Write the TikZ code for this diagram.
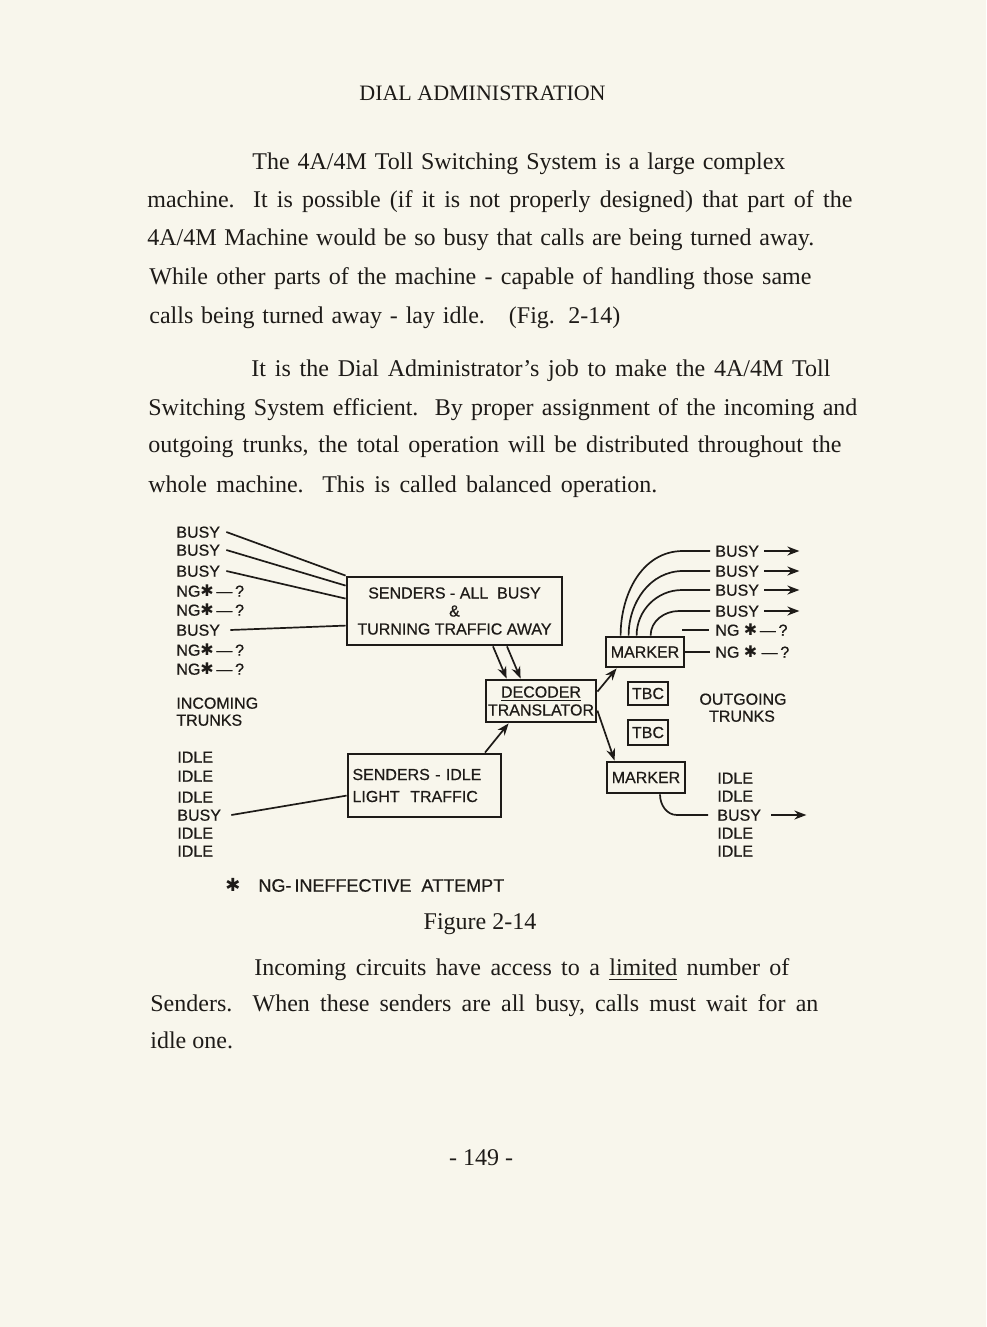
\documentclass[tikz,border=0pt]{standalone}
\usepackage{fontspec}
\setmainfont{Liberation Serif}
\newfontfamily\lettering[FakeBold=0.6]{Liberation Sans}
\newfontfamily\starfont{DejaVu Sans}
\usetikzlibrary{arrows.meta,calc,positioning}
\definecolor{paper}{RGB}{248,246,236}
\definecolor{ink}{RGB}{30,27,24}
\newcommand{\ngast}{{\starfont ✱}}

\begin{document}
\begin{tikzpicture}[
      x=0.5pt, y=-0.5pt,
      >={Stealth[length=6pt,width=4.5pt]},
      bodytext/.style={font=\fontsize{12}{14}\selectfont, text=ink, inner sep=0pt,
            anchor=west, text height=7.9pt, text depth=0pt},
      trunk/.style={font=\lettering\fontsize{8}{9}\selectfont, text=ink, inner sep=0pt,
            anchor=west, text height=5.7pt, text depth=0pt},
      unit/.style={draw=ink, line width=1.4pt, font=\lettering\fontsize{8}{9}\selectfont,
            text=ink, inner sep=1pt},
      wire/.style={draw=ink, line width=0.85pt},
      feed/.style={wire, ->}
]
\fill[paper] (0,0) rectangle (986,1327);
\useasboundingbox (0,0) rectangle (986,1327);

% page text
\node[bodytext, anchor=center, font=\fontsize{11}{13}\selectfont] (head) at (482.5,93) {DIAL ADMINISTRATION};
\node[bodytext] (pa1) at (252,162) {\makebox[266.5pt][s]{The 4A/4M Toll Switching System is a large complex}};
\node[bodytext] (pa2) at (147,200) {\makebox[352.5pt][s]{machine.\ \ It is possible (if it is not properly designed) that part of the}};
\node[bodytext] (pa3) at (147,238) {\makebox[333.5pt][s]{4A/4M Machine would be so busy that calls are being turned away.}};
\node[bodytext] (pa4) at (149,277) {\makebox[331pt][s]{While other parts of the machine - capable of handling those same}};
\node[bodytext] (pa5) at (149,316) {\makebox[235.5pt][s]{calls being turned away - lay idle.\quad (Fig. 2-14)}};
\node[bodytext] (pb1) at (251,369) {\makebox[289.5pt][s]{It is the Dial Administrator's job to make the 4A/4M Toll}};
\node[bodytext] (pb2) at (148,408) {\makebox[354.5pt][s]{Switching System efficient.\ \ By proper assignment of the incoming and}};
\node[bodytext] (pb3) at (148,445) {\makebox[346.5pt][s]{outgoing trunks, the total operation will be distributed throughout the}};
\node[bodytext] (pb4) at (148,485) {\makebox[254.5pt][s]{whole machine.\ \ This is called balanced operation.}};
\node[bodytext, anchor=center] (caption) at (480,922) {Figure 2-14};
\node[bodytext] (pc1) at (254,968) {\makebox[267.5pt][s]{Incoming circuits have access to a \underline{limited} number of}};
\node[bodytext] (pc2) at (150,1004) {\makebox[334pt][s]{Senders.\ \ When these senders are all busy,\ calls must wait for an}};
\node[bodytext] (pc3) at (150,1041) {idle one.};
\node[bodytext, anchor=center] (folio) at (481,1158) {- 149 -};

% units
\node[unit, minimum width=107.5pt, minimum height=34pt, align=center] (sall) at (454.5,611)
      {SENDERS - ALL\ \ BUSY\\ \&\\ TURNING TRAFFIC AWAY};
\node[unit, minimum width=76.5pt, minimum height=31.5pt, align=left, text width=72pt] (sidle) at (424.5,785.5)
      {SENDERS - IDLE\\[2pt] LIGHT\ \ TRAFFIC};
\node[unit, minimum width=55pt, minimum height=21pt, align=center, inner xsep=0.5pt] (dec) at (541,701)
      {\underline{DECODER}\\ TRANSLATOR};
\node[unit, minimum width=39pt, minimum height=15pt] (mk1) at (645,652) {MARKER};
\node[unit, minimum width=39pt, minimum height=15.5pt] (mk2) at (646,777.5) {MARKER};
\node[unit, minimum width=20pt, minimum height=11.5pt] (tbc1) at (648,693.5) {TBC};
\node[unit, minimum width=20pt, minimum height=12.5pt] (tbc2) at (648,732.5) {TBC};

% incoming trunks
\foreach \y/\t [count=\i] in {532/BUSY, 550/BUSY, 571/BUSY, 591/NG\ngast\,—\,?, 610/NG\ngast\,—\,?,
      630/BUSY, 650/NG\ngast\,—\,?, 669/NG\ngast\,—\,?}
  \node[trunk] (in\i) at (176,\y) {\t};
\node[trunk] (inc1) at (176,703) {INCOMING};
\node[trunk] (inc2) at (176,720) {TRUNKS};
\foreach \y/\t [count=\i] in {757/IDLE, 776/IDLE, 797/IDLE, 815/BUSY, 833/IDLE, 851/IDLE}
  \node[trunk] (id\i) at (177,\y) {\t};
\node[trunk, font=\lettering\fontsize{9}{10}\selectfont] (legend) at (225,886)
      {\ngast\quad NG-\,INEFFECTIVE\ \ ATTEMPT};

% outgoing trunks
\foreach \y [count=\i] in {551,571,590,611}
  \node[trunk] (ob\i) at (715,\y) {BUSY};
\node[trunk] (on5) at (715,630) {NG \ngast\,—\,?};
\node[trunk] (on6) at (715,652) {NG \ngast\ —\,?};
\node[trunk, anchor=center] (out1) at (743,699) {OUTGOING};
\node[trunk, anchor=center] (out2) at (742,716) {TRUNKS};
\foreach \y/\t [count=\i] in {778/IDLE, 796/IDLE, 815/BUSY, 833/IDLE, 851/IDLE}
  \node[trunk] (od\i) at (717,\y) {\t};

% connectors
\draw[wire] ([xshift=3pt]in1.east) -- (sall.north west);
\draw[wire] ([xshift=3pt]in2.east) -- ($(sall.north west)+(0,10)$);
\draw[wire] ([xshift=3pt]in3.east) -- ($(sall.north west)+(0,23)$);
\draw[wire] ([xshift=5pt]in6.east) -- ($(sall.north west)+(0,50)$);
\draw[wire] ([xshift=5pt]id4.east) -- ($(sidle.north west)+(0,43)$);

\draw[feed] ($(sall.south)+(38.5,0)$) -- ($(dec.north west)+(22,0)$);
\draw[feed] ($(sall.south)+(52.5,0)$) -- ($(dec.north west)+(36,0)$);
\draw[feed] ($(sidle.north)+(60.5,0)$) -- ($(dec.south west)+(24,0)$);
\draw[feed] ($(dec.north east)+(0,13)$) -- ($(mk1.south west)+(12,0)$);
\draw[feed] ($(dec.north east)+(0,32)$) -- ($(mk2.north west)+(9,0)$);

\draw[wire] ($(mk1.north west)+(16,0)$) to[out=90,in=180] ($(ob1.west)+(-32,0)$) -- ($(ob1.west)+(-5,0)$);
\draw[wire] ($(mk1.north west)+(24,0)$) to[out=90,in=180] ($(ob2.west)+(-32,0)$) -- ($(ob2.west)+(-5,0)$);
\draw[wire] ($(mk1.north west)+(32,0)$) to[out=90,in=180] ($(ob3.west)+(-33,0)$) -- ($(ob3.west)+(-5,0)$);
\draw[wire] ($(mk1.north west)+(46,0)$) to[out=90,in=180] ($(ob4.west)+(-36,0)$) -- ($(ob4.west)+(-5,0)$);
\draw[wire] ($(on5.west)+(-33,0)$) -- ($(on5.west)+(-6,0)$);
\draw[wire] (mk1.east) -- ($(on6.west)+(-5,0)$);
\foreach \i in {1,...,4}
  \draw[feed] ($(ob\i.east)+(5,0)$) -- ++(35,0);

\draw[wire] ($(mk2.south)+(14,0)$) to[out=-90,in=180] ($(od3.west)+(-40,0)$) -- ($(od3.west)+(-9,0)$);
\draw[feed] ($(od3.east)+(10,0)$) -- ++(35,0);
\end{tikzpicture}
\end{document}
